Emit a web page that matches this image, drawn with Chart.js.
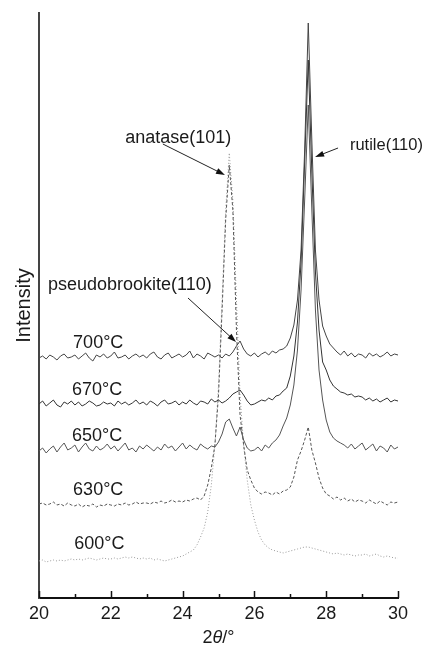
<!DOCTYPE html>
<html>
<head>
<meta charset="utf-8">
<script src="https://cdn.jsdelivr.net/npm/chart.js@4.4.1/dist/chart.umd.min.js"></script>
<style>
body { margin: 0; background: #fff; }
</style>
</head>
<body>
<canvas id="xrd" width="426" height="648"></canvas>
<script>
// 2theta from 20 to 30 in 0.1 steps
var twoTheta = [];
for (var i = 0; i <= 100; i++) {
    twoTheta.push(Math.round((20 + i * 0.1) * 10) / 10);
}

var temps = ['700°C', '670°C', '650°C', '630°C', '600°C'];

// intensities (arbitrary units, curves already offset)
var i700 = [
    240,242,239,243,241,238,242,244,240,241,
    243,239,242,245,240,237,243,241,244,240,
    242,246,240,241,243,239,242,244,241,243,
    240,244,246,241,239,243,245,240,242,244,
    241,243,247,240,244,242,239,245,243,241,
    243,240,244,242,246,252,257,249,244,242,
    245,241,244,246,243,247,245,248,249,252,
    260,273,298,348,448,575,458,348,298,272,
    262,254,250,246,243,247,242,245,241,244,
    243,240,245,242,244,241,243,246,242,244,243
];
var i670 = [
    194,197,192,195,198,193,191,196,194,197,
    193,196,192,194,197,195,192,193,196,194,
    195,192,197,194,196,193,195,198,194,196,
    193,197,195,192,196,198,194,195,197,193,
    196,194,198,195,193,197,196,194,199,196,
    198,195,197,200,204,206,208,203,197,193,
    194,196,198,197,200,198,202,203,207,210,
    222,242,276,336,436,538,426,326,268,236,
    228,218,212,209,206,205,203,204,201,202,
    201,198,200,197,199,196,198,200,196,198,197
];
var i650 = [
    147,150,145,149,152,146,151,155,148,150,
    153,146,151,155,149,147,152,148,150,154,
    149,152,147,151,155,148,150,146,152,149,
    153,150,147,151,148,154,150,152,147,151,
    155,149,153,150,148,154,151,149,152,151,
    156,164,176,179,170,162,171,158,150,147,
    148,151,147,153,150,155,158,163,172,180,
    193,213,248,308,398,493,388,288,228,198,
    178,166,160,157,155,153,150,154,149,152,
    155,148,151,154,147,152,150,146,153,149,151
];
var i630 = [
    94,95,93,94,96,93,94,92,95,93,
    92,94,91,93,92,94,91,93,92,94,
    93,92,94,93,95,93,94,96,94,95,
    95,94,96,95,97,95,96,98,96,97,
    96,98,97,99,100,98,102,113,130,153,
    203,288,378,433,388,268,183,153,128,118,
    110,106,104,106,105,103,106,104,107,108,
    111,121,138,147,158,171,148,135,120,110,
    104,102,99,101,98,100,97,99,96,98,
    97,95,98,96,94,97,95,93,96,95,96
];
var i600 = [
    37,38,36,37,38,37,38,37,38,39,
    38,39,38,39,40,39,38,39,40,39,
    39,40,39,40,41,40,41,40,39,40,
    39,40,38,39,38,37,38,39,40,41,
    42,44,46,48,53,61,70,86,113,153,
    213,298,388,445,398,298,203,153,118,93,
    78,66,58,53,50,48,47,46,45,46,
    47,48,49,50,51,51,50,49,48,47,
    46,45,44,45,44,43,44,43,42,43,
    43,44,42,43,44,42,41,42,41,40,40
];

var xTicks = [20, 22, 24, 26, 28, 30];

function toPoints(ys) {
    var pts = [];
    for (var i = 0; i < ys.length; i++) {
        pts.push({x: twoTheta[i], y: ys[i]});
    }
    return pts;
}

var FONT = '"Liberation Sans", Arial, Helvetica, sans-serif';

function arrow(ctx, x1, y1, x2, y2) {
    var a = Math.atan2(y2 - y1, x2 - x1);
    ctx.beginPath();
    ctx.moveTo(x1, y1);
    ctx.lineTo(x2 - 6 * Math.cos(a), y2 - 6 * Math.sin(a));
    ctx.stroke();
    ctx.beginPath();
    ctx.moveTo(x2, y2);
    ctx.lineTo(x2 - 9 * Math.cos(a) + 3 * Math.sin(a), y2 - 9 * Math.sin(a) - 3 * Math.cos(a));
    ctx.lineTo(x2 - 9 * Math.cos(a) - 3 * Math.sin(a), y2 - 9 * Math.sin(a) + 3 * Math.cos(a));
    ctx.closePath();
    ctx.fill();
}

// inward ticks, curve labels, peak arrows and the x title
var extras = {
    id: 'extras',
    afterDraw: function(chart) {
        var ctx = chart.ctx;
        var xs = chart.scales.x;
        var ys = chart.scales.y;
        var bottom = chart.chartArea.bottom;

        ctx.save();
        ctx.strokeStyle = '#111';
        ctx.lineWidth = 1.5;
        for (var t = 20; t <= 30; t++) {
            var px = Math.round(xs.getPixelForValue(t)) + 0.5;
            var len = (t % 2 === 0) ? 7 : 4;
            ctx.beginPath();
            ctx.moveTo(px, bottom);
            ctx.lineTo(px, bottom - len);
            ctx.stroke();
        }

        ctx.fillStyle = '#1a1a1a';
        ctx.font = '18px ' + FONT;
        ctx.textBaseline = 'alphabetic';
        ctx.textAlign = 'left';
        // temperature labels, baseline in data units
        var labelY = [250, 203, 157, 103, 49];
        var labelX = [20.95, 20.92, 20.92, 20.95, 20.98];
        for (var k = 0; k < temps.length; k++) {
            ctx.fillText(temps[k], xs.getPixelForValue(labelX[k]), ys.getPixelForValue(labelY[k]));
        }

        ctx.fillText('anatase(101)', xs.getPixelForValue(22.40), ys.getPixelForValue(455));
        ctx.fillText('pseudobrookite(110)', xs.getPixelForValue(20.25), ys.getPixelForValue(308));
        ctx.font = '16.5px ' + FONT;
        ctx.fillText('rutile(110)', xs.getPixelForValue(28.66), ys.getPixelForValue(448));

        ctx.strokeStyle = '#222';
        ctx.fillStyle = '#111';
        ctx.lineWidth = 1;
        arrow(ctx, xs.getPixelForValue(23.45), ys.getPixelForValue(454), xs.getPixelForValue(25.18), ys.getPixelForValue(423));
        arrow(ctx, xs.getPixelForValue(28.33), ys.getPixelForValue(450), xs.getPixelForValue(27.69), ys.getPixelForValue(441));
        arrow(ctx, xs.getPixelForValue(24.15), ys.getPixelForValue(300), xs.getPixelForValue(25.49), ys.getPixelForValue(256));

        // x title: 2θ/° with italic theta
        var parts = [['2', ''], ['θ', 'italic '], ['/°', '']];
        var w = 0;
        for (var p = 0; p < parts.length; p++) {
            ctx.font = parts[p][1] + '18px ' + FONT;
            w += ctx.measureText(parts[p][0]).width;
        }
        var cx = (chart.chartArea.left + chart.chartArea.right) / 2 - w / 2;
        ctx.fillStyle = '#1a1a1a';
        for (var p = 0; p < parts.length; p++) {
            ctx.font = parts[p][1] + '18px ' + FONT;
            ctx.fillText(parts[p][0], cx, 643);
            cx += ctx.measureText(parts[p][0]).width;
        }
        ctx.restore();
    }
};

var ctx = document.getElementById('xrd').getContext('2d');
var chart = new Chart(ctx, {
    type: 'line',
    data: {
        datasets: [
            { label: temps[0], data: toPoints(i700), borderColor: '#444', borderWidth: 1 },
            { label: temps[1], data: toPoints(i670), borderColor: '#333', borderWidth: 1 },
            { label: temps[2], data: toPoints(i650), borderColor: '#555', borderWidth: 1 },
            { label: temps[3], data: toPoints(i630), borderColor: '#555', borderWidth: 1, borderDash: [3, 2] },
            { label: temps[4], data: toPoints(i600), borderColor: '#999', borderWidth: 1, borderDash: [1, 2] }
        ]
    },
    options: {
        responsive: false,
        animation: false,
        layout: { padding: { top: 13, right: 28, left: 0, bottom: 0 } },
        elements: { point: { radius: 0 }, line: { tension: 0 } },
        plugins: { legend: { display: false }, tooltip: { enabled: false } },
        scales: {
            x: {
                type: 'linear',
                min: 20,
                max: 30,
                afterFit: function(s) { s.height = 50; },
                afterBuildTicks: function(s) {
                    s.ticks = xTicks.map(function(v) { return {value: v}; });
                },
                grid: { display: false, drawTicks: false },
                border: { display: true, color: '#111', width: 2 },
                ticks: {
                    padding: 5,
                    color: '#1a1a1a',
                    font: { size: 18, family: FONT },
                    maxRotation: 0
                }
            },
            y: {
                min: 0,
                max: 585,
                afterFit: function(s) { s.width = 39; },
                grid: { display: false, drawTicks: false },
                border: { display: true, color: '#444', width: 2 },
                ticks: { display: false },
                title: {
                    display: true,
                    text: 'Intensity',
                    color: '#1a1a1a',
                    font: { size: 20, family: FONT },
                    padding: { top: 12, bottom: 0 }
                }
            }
        }
    },
    plugins: [extras]
});
</script>
</body>
</html>
